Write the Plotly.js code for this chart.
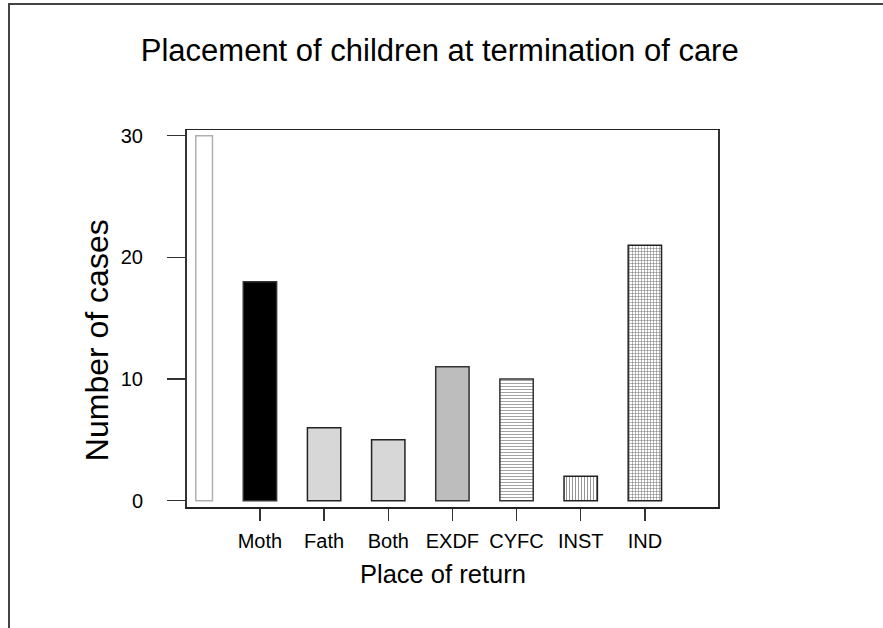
<!DOCTYPE html>
<html>
<head>
<meta charset="utf-8">
<script src="https://cdn.plot.ly/plotly-3.0.1.min.js"></script>
<style>
  html, body { margin: 0; padding: 0; background: #fff; }
  #wrap { position: relative; width: 883px; height: 628px; overflow: hidden; }
  #chart { position: absolute; left: 0; top: 0; width: 883px; height: 628px; }
  #frame { position: absolute; left: 8px; top: 3px; width: 880px; height: 630px;
           border-top: 2px solid #444; border-left: 2px solid #444; pointer-events: none; }
</style>
</head>
<body>
<div id="wrap">
  <div id="chart"></div>
  <div id="frame"></div>
</div>
<script>
// Data
var positions   = [0, 1, 2, 3, 4, 5, 6, 7];
var values      = [30, 18, 6, 5, 11, 10, 2, 21];
var tickPos     = [1, 2, 3, 4, 5, 6, 7];
var tickLabels  = ['Moth', 'Fath', 'Both', 'EXDF', 'CYFC', 'INST', 'IND'];
var yTicks      = [0, 10, 20, 30];

// Styles
var barWidths   = [0.26, 0.52, 0.52, 0.52, 0.52, 0.52, 0.52, 0.52];
var barOffsets  = [0, -0.26, -0.26, -0.26, -0.26, -0.26, -0.26, -0.26];
var fillColors  = ['#ffffff', '#000000', '#ffffff', '#ffffff', '#bdbdbd', '#ffffff', '#ffffff', '#ffffff'];
var patShapes   = ['', '', '.', '.', '', '-', '|', '+'];
var patFg       = ['#000', '#000', '#a4a4a4', '#a4a4a4', '#000', '#9a9a9a', '#8a8a8a', '#6e6e6e'];
var patSize     = [4, 4, 2, 2, 4, 3, 3, 3];
var patSolid    = [0.3, 0.3, 0.5, 0.5, 0.3, 0.3, 0.3, 0.3];
var lineColors  = ['#b0b0b0', '#333333', '#222222', '#222222', '#333333', '#333333', '#222222', '#222222'];

var traces = positions.map(function (p, i) {
  var marker = {
    color: fillColors[i],
    line: { color: lineColors[i], width: 1.5 }
  };
  if (patShapes[i]) {
    marker.pattern = {
      shape: patShapes[i],
      fgcolor: patFg[i],
      bgcolor: fillColors[i],
      size: patSize[i],
      solidity: patSolid[i]
    };
  }
  return {
    type: 'bar',
    x: [p],
    y: [values[i]],
    width: [barWidths[i]],
    offset: [barOffsets[i]],
    marker: marker,
    showlegend: false
  };
});

var font = 'Arial, "Liberation Sans", Helvetica, sans-serif';

var layout = {
  width: 883,
  height: 628,
  margin: { l: 187, r: 165, t: 130, b: 121, pad: 0 },
  paper_bgcolor: 'rgba(0,0,0,0)',
  plot_bgcolor: '#ffffff',
  font: { family: font, color: '#000' },
  barmode: 'overlay',
  title: {
    text: 'Placement of children at termination of care',
    font: { family: font, size: 31, color: '#000' },
    xref: 'container', yref: 'container',
    x: 0.498, xanchor: 'center',
    y: 0.92, yanchor: 'middle'
  },
  xaxis: {
    range: [-0.137, 8.14],
    tickmode: 'array',
    tickvals: tickPos,
    ticktext: tickLabels,
    ticks: 'outside',
    ticklen: 12,
    tickwidth: 1.5,
    tickcolor: '#333',
    ticklabelstandoff: 3,
    tickfont: { family: font, size: 20, color: '#000' },
    showline: true,
    linecolor: '#222',
    linewidth: 1.5,
    mirror: true,
    showgrid: false,
    zeroline: false
  },
  yaxis: {
    range: [-0.52, 30.47],
    tickmode: 'array',
    tickvals: yTicks,
    ticks: 'outside',
    ticklen: 18,
    tickwidth: 1.5,
    tickcolor: '#333',
    ticklabelstandoff: 20,
    tickfont: { family: font, size: 20, color: '#000' },
    showline: true,
    linecolor: '#333',
    linewidth: 2,
    mirror: true,
    showgrid: false,
    zeroline: false
  },
  annotations: [
    {
      text: 'Number of cases',
      xref: 'paper', yref: 'paper',
      x: -0.168, y: 0.442,
      xanchor: 'center', yanchor: 'middle',
      textangle: -90,
      showarrow: false,
      font: { family: font, size: 32, color: '#000' }
    },
    {
      text: 'Place of return',
      xref: 'paper', yref: 'paper',
      x: 0.482, y: -0.178,
      xanchor: 'center', yanchor: 'middle',
      showarrow: false,
      font: { family: font, size: 25.5, color: '#000' }
    }
  ]
};

Plotly.newPlot('chart', traces, layout, { staticPlot: true, displayModeBar: false });
</script>
</body>
</html>
